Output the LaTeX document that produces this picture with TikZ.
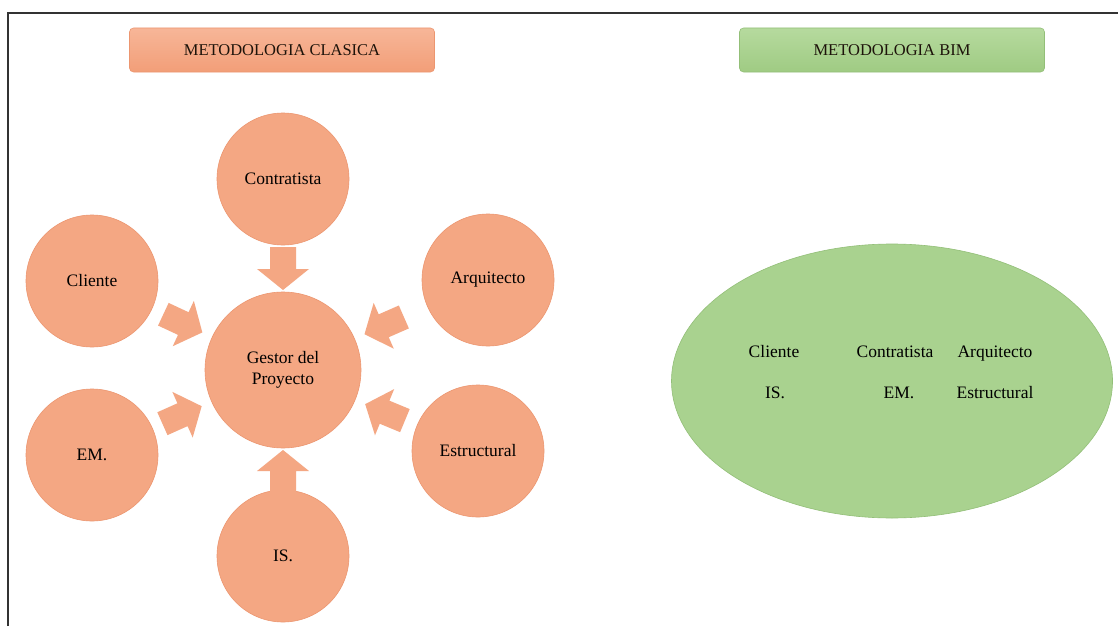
\documentclass[tikz,border=0pt]{standalone}
\usepackage{fontspec}
\setmainfont{Liberation Serif}
\usetikzlibrary{calc,shapes.geometric}
\definecolor{salmon}{HTML}{F4A783}
\definecolor{salmonedge}{HTML}{EC9670}
\definecolor{salmontop}{HTML}{F7B698}
\definecolor{salmonbot}{HTML}{F29E78}
\definecolor{bimgreen}{HTML}{A9D28F}
\definecolor{bimedge}{HTML}{93BF78}
\definecolor{greentop}{HTML}{B6DA9E}
\definecolor{greenbot}{HTML}{9FCB83}
\definecolor{framegray}{HTML}{333333}
\tikzset{
  lbl/.style={font=\fontsize{17.5}{20.5}\selectfont, text=black},
  bimlbl/.style={lbl, anchor=base, inner sep=0pt},
  role/.style={circle, fill=salmon, draw=salmonedge, line width=0.6pt, inner sep=0pt,
     minimum size=132pt, lbl, align=center},
  hub/.style={role, minimum size=156pt},
  titlebox/.style={rounded corners=4pt, minimum width=305pt, minimum height=44pt,
     inner sep=0pt, lbl, font=\fontsize{16.5}{19}\selectfont, text=black!85!brown},
  clasica/.style={titlebox, top color=salmontop, bottom color=salmonbot, draw=salmonedge, line width=0.6pt},
  bim/.style={titlebox, top color=greentop, bottom color=greenbot, draw=bimedge, line width=0.6pt},
  arrowfill/.style={fill=salmon}
}
\newcommand{\blockarr}[5]{% from, to, tip distance from 'to' centre, half shaft, half head
  \coordinate (bt) at ($(#2)!#3!(#1)$);
  \coordinate (bs) at ($(bt)!43pt!(#1)$);
  \coordinate (bh) at ($(bt)!21pt!(#1)$);
  \fill[arrowfill] ($(bs)!#4!90:(bt)$) -- ($(bh)!#4!90:(bt)$) -- ($(bh)!#5!90:(bt)$)
    -- (bt) -- ($(bh)!#5!-90:(bt)$) -- ($(bh)!#4!-90:(bt)$) -- ($(bs)!#4!-90:(bt)$) -- cycle;
}
\begin{document}
\begin{tikzpicture}[x=1pt,y=-1pt]
\useasboundingbox (0,0) rectangle (1118,626);
\fill[white] (0,0) rectangle (1118,626);
% frame
\draw[framegray, line width=1.5pt] (8,626) -- (8,13) -- (1118,13);

% titles
\node[clasica] (tc) at (282,50) {METODOLOGIA CLASICA};
\node[bim] (tb) at (892,50) {METODOLOGIA BIM};

% classic method
\node[hub] (gest) at (283,370) {Gestor del\\Proyecto};
\node[role] (con) at (283,179) {Contratista};
\node[role] (cli) at (92,281) {Cliente};
\node[role] (arq) at (488,280) {Arquitecto};
\node[role] (em) at (92,455) {EM.};
\node[role] (est) at (478,451) {Estructural};
\node[role] (is) at (283,556) {IS.};

\blockarr{con}{gest}{80pt}{13pt}{26pt}
\blockarr{is}{gest}{80pt}{13pt}{26pt}
\blockarr{cli}{gest}{89pt}{12.5pt}{25pt}
\blockarr{arq}{gest}{89pt}{12.5pt}{25pt}
\blockarr{em}{gest}{89pt}{12.5pt}{25pt}
\blockarr{est}{gest}{89pt}{12.5pt}{25pt}

% BIM method
\node[ellipse, fill=bimgreen, draw=bimedge, line width=0.6pt, minimum width=441pt,
  minimum height=274pt, inner sep=0pt] (ell) at (892,381) {};
\node[bimlbl] (bcli) at (774,357) {Cliente};
\node[bimlbl] (bcon) at (895,357) {Contratista};
\node[bimlbl] (barq) at (995,357) {Arquitecto};
\node[bimlbl] (bis) at (775,398) {IS.};
\node[bimlbl] (bem) at (899,398) {EM.};
\node[bimlbl] (best) at (995,398) {Estructural};
\end{tikzpicture}
\end{document}
